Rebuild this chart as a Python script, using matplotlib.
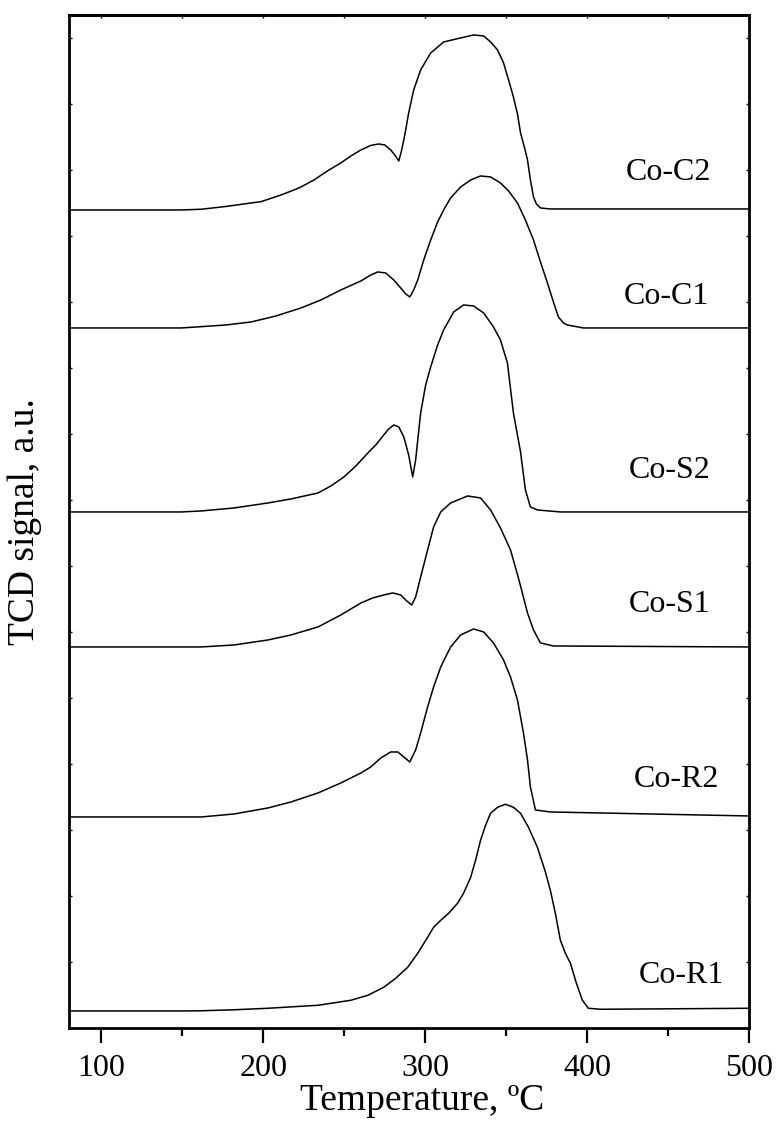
import numpy as np
import matplotlib
matplotlib.use('Agg')
import matplotlib.pyplot as plt
from matplotlib.ticker import MultipleLocator

# ---- data (temperature in C, signal above own baseline) ----
names = ['Co-C2', 'Co-C1', 'Co-S2', 'Co-S1', 'Co-R2', 'Co-R1']
offsets = [818, 700, 516, 381, 211, 17]

temp_c2 = [81, 149.3, 161.6, 177, 192.5, 198.6, 211, 219, 223.3, 231.3, 239.9, 247.9, 254.1,
           260.3, 266.4, 271.3, 275, 278.7, 281.2, 283.7, 285.5, 287.4, 289.8, 292.9, 297.2,
           303.4, 311.4, 321.9, 329.9, 336.1, 340.4, 344.7, 348.4, 351.5, 354.5, 357, 358.9,
           361.4, 363.2, 365, 366.9, 368.7, 371.2, 377.3, 500]
sig_c2 = [0, 0, 0.7, 3.5, 7, 8.3, 15, 20, 23, 30, 39.3, 47, 54,
          60, 64.5, 66, 65, 60, 55, 49, 60, 75, 97, 120, 140,
          157, 168, 172, 175, 174, 168, 160, 147, 130, 113, 96, 77,
          62, 50, 30, 13, 6, 2, 1, 1]

temp_c1 = [81, 149.3, 161.6, 177, 192.5, 207.9, 223.3, 235.6, 247.9, 260.3, 266.4, 270.7,
           275.6, 280.6, 284.9, 288, 290.5, 292.9, 295.4, 299.1, 303.4, 307.7, 311.4, 315.7,
           321.9, 328.1, 334.2, 340.4, 346.5, 351.5, 357, 361.9, 366.9, 371.2, 375.5, 379.2,
           382.3, 385.4, 387.8, 397.7, 500]
sig_c1 = [0, 0, 1.3, 3, 6, 12, 20, 28, 38, 47, 53, 56,
          55, 48, 40, 34, 31, 38, 48, 68, 88, 106, 118, 130,
          141, 148, 152, 151, 145, 137, 125, 108, 88, 66, 45, 26,
          11, 5, 3, 0, 0]

temp_s2 = [81, 149.3, 161.6, 182, 202.9, 217.1, 233.8, 241.8, 249.8, 257.2, 264.6, 269.5,
           274.4, 277.5, 280.6, 283.7, 286.8, 289.8, 292.3, 294.1, 297.2, 300.3, 303.4,
           307.7, 311.4, 317.6, 323.7, 329.9, 336.1, 342.2, 346.5, 350.8, 354.5, 358.9,
           361.9, 365, 369.3, 383.5, 500]
sig_s2 = [0, 0, 1, 4, 9, 13, 19, 26, 35, 46, 59, 67,
          77, 83, 87, 85, 75, 57, 35, 52, 99, 127, 145,
          167, 182, 200, 207, 206, 199, 185, 172, 149, 99, 60,
          22, 5, 2, 0, 0]

temp_s1 = [81, 149.3, 161.6, 182, 202.9, 217.1, 233.8, 247.9, 260.3, 267.6, 274.4, 280,
           284.9, 288.6, 291.7, 294.1, 297.2, 301.5, 305.2, 309.6, 315.7, 326.2, 334.2,
           340.4, 346.5, 352.7, 357.6, 363.2, 366.9, 371.2, 379.2, 500]
sig_s1 = [0, 0, 0, 2, 7, 12, 20, 32, 44, 49, 52, 54,
          52, 46, 42, 50, 70, 97, 120, 135, 144, 151, 149,
          137, 119, 97, 69, 34, 17, 4, 1, 0]

temp_r2 = [81, 149.3, 161.6, 182, 202.9, 217.1, 233.8, 247.9, 260.3, 266.4, 272.6, 278.7,
           283.1, 286.8, 290.5, 294.1, 297.2, 301.5, 305.2, 309.6, 315.7, 321.9, 329.9,
           336.1, 342.2, 348.4, 352.7, 357, 360.7, 363.2, 365, 368.1, 377.3, 500]
sig_r2 = [0, 0, 0, 3, 9, 15, 24, 34, 44, 50, 59, 65,
          65, 60, 55, 67, 84, 110, 130, 150, 170, 182, 188,
          185, 174, 157, 140, 117, 84, 57, 30, 7, 5, 1]

temp_r1 = [81, 149.3, 161.6, 182, 202.9, 233.8, 254.1, 264.6, 274.4, 281.8, 289.2, 295.4,
           301.5, 305.2, 309.6, 314.5, 320, 323.7, 328.1, 331.1, 334.2, 337.3, 340.4, 344.7,
           349.6, 354.5, 358.9, 363.8, 369.3, 374.3, 377.3, 380.4, 383.5, 386.6, 389.7,
           393.4, 397.1, 400.8, 408.2, 500]
sig_r1 = [0, 0, 0.2, 1.2, 2.7, 5.7, 10.7, 15.7, 23.7, 32.7, 43.7, 57.7,
          73.7, 83.7, 90.7, 97.7, 107.7, 117.7, 133.7, 150.7, 170.7, 185.7, 197.7, 203.7,
          206.7, 203.7, 197.7, 183.7, 163.7, 138.7, 120.7, 97.7, 70.7, 57.7, 47.7,
          27.7, 10.7, 2.7, 1.7, 2.7]

temps = [temp_c2, temp_c1, temp_s2, temp_s1, temp_r2, temp_r1]
signals = [sig_c2, sig_c1, sig_s2, sig_s1, sig_r2, sig_r1]

# label anchor (temperature, height above the curve baseline)
label_temp = [450, 449, 451, 451, 455, 458]
label_dy = [37, 31, 41, 42, 37, 35]

plt.rcParams['font.family'] = ['Liberation Serif', 'DejaVu Serif']

fig = plt.figure(figsize=(7.76, 11.33), dpi=100)
ax = fig.add_axes([0.0889, 0.0927, 0.8763, 0.8941])

for t, s, off in zip(temps, signals, offsets):
    ax.plot(t, np.array(s) + off, color='black', linewidth=1.1)

for name, lt, dy, off in zip(names, label_temp, label_dy, offsets):
    ax.text(lt, off + dy, name, fontsize=23, ha='center', va='center')

ax.set_xlim(80, 500)
ax.set_ylim(0, 1013)

ax.xaxis.set_major_locator(MultipleLocator(100))
ax.xaxis.set_minor_locator(MultipleLocator(50))
ax.yaxis.set_major_locator(MultipleLocator(66))
ax.tick_params(axis='x', which='major', direction='out', length=11, width=1.6,
               labelsize=23, pad=8)
ax.tick_params(axis='x', which='minor', direction='out', length=6, width=1.6)
ax.tick_params(axis='y', which='major', left=True, right=True, direction='in',
               length=2.5, width=1.0, labelleft=False)

top = ax.secondary_xaxis('top')
top.xaxis.set_major_locator(MultipleLocator(50))
top.tick_params(direction='in', length=2.5, width=1.0, labeltop=False)
top.spines['top'].set_linewidth(2.0)

for sp in ax.spines.values():
    sp.set_linewidth(2.0)

ax.set_xlabel('Temperature, ºC', fontsize=27)
ax.xaxis.set_label_coords(0.519, -0.055)
ax.set_ylabel('TCD signal, a.u.', fontsize=27)
ax.yaxis.set_label_coords(-0.04, 0.50)

plt.savefig('out.png', dpi=100)
